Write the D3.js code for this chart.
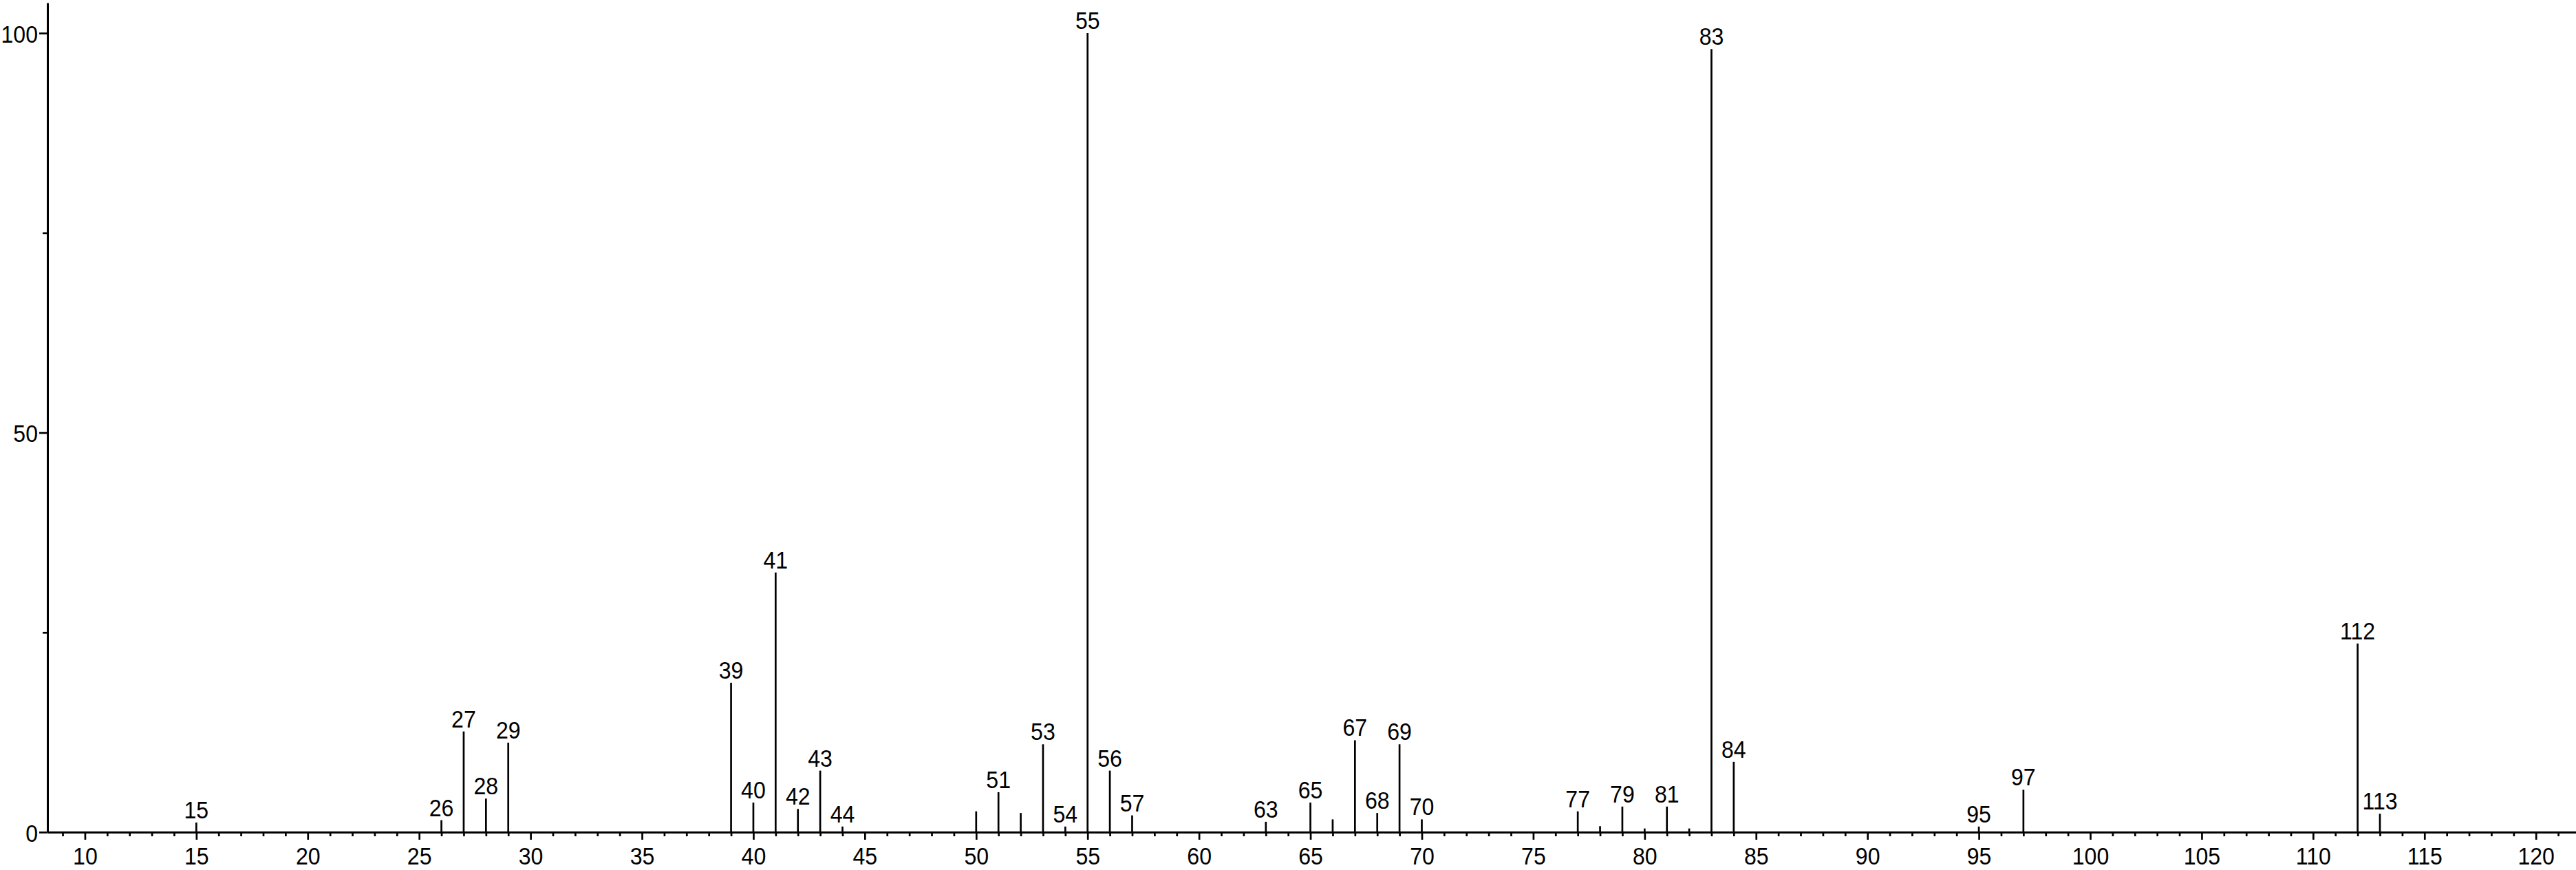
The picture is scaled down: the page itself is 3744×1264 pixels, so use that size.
<!DOCTYPE html>
<html>
<head>
<meta charset="utf-8">
<script src="https://cdn.jsdelivr.net/npm/d3@7"></script>
<style>
  html, body { margin: 0; padding: 0; background: #fff; }
  svg { display: block; }
  text { font-family: "Liberation Sans", Arial, Helvetica, sans-serif; fill: #000; }
</style>
</head>
<body>
<svg id="chart" width="3744" height="1264"></svg>
<script>
// m/z values of the peaks
const mz = [15, 26, 27, 28, 29, 39, 40, 41, 42, 43, 44, 50, 51, 52, 53, 54, 55, 56, 57,
            63, 65, 66, 67, 68, 69, 70, 77, 78, 79, 80, 81, 82, 83, 84, 95, 97, 112, 113];
// relative intensities (%)
const intensity = [1.2, 1.5, 12.6, 4.2, 11.2, 18.7, 3.7, 32.5, 2.9, 7.7, 0.7, 2.6, 5.0, 2.4, 11.0, 0.7, 100, 7.7, 2.1,
                   1.3, 3.7, 1.6, 11.5, 2.4, 11.0, 1.6, 2.6, 0.75, 3.2, 0.46, 3.2, 0.46, 98, 8.8, 0.7, 5.3, 23.6, 2.3];
// peaks that carry a label
const labeledMz = [15, 26, 27, 28, 29, 39, 40, 41, 42, 43, 44, 51, 53, 54, 55, 56, 57,
                   63, 65, 67, 68, 69, 70, 77, 79, 81, 83, 84, 95, 97, 112, 113];
// axis ticks
const xMajorTicks = [10, 15, 20, 25, 30, 35, 40, 45, 50, 55, 60, 65, 70, 75, 80, 85, 90, 95, 100, 105, 110, 115, 120];
const xMinorTicks = d3.range(9, 122);
const yMajorTicks = [0, 50, 100];
const yMinorTicks = [25, 75];

const peaks = mz.map((m, i) => ({ mz: m, value: intensity[i], labeled: labeledMz.includes(m) }));

const svg = d3.select("#chart");
const FONT = 34.5, SX = 0.93;

const x = d3.scaleLinear().domain([8.32, 121.8]).range([69, 3744]);
const y = d3.scaleLinear().domain([0, 103.8]).range([1209, 4]);

// minor x ticks
const gxMinor = svg.append("g").attr("transform", `translate(0,${y(0)})`)
  .call(d3.axisBottom(x).tickValues(xMinorTicks.filter(v => !xMajorTicks.includes(v)))
        .tickSize(6).tickSizeOuter(0).tickFormat(""));
gxMinor.select(".domain").remove();
gxMinor.selectAll(".tick line").attr("stroke", "#000").attr("stroke-width", 2.7);

// major x ticks + labels + domain
const gx = svg.append("g").attr("transform", `translate(0,${y(0)})`)
  .call(d3.axisBottom(x).tickValues(xMajorTicks).tickSize(11).tickSizeOuter(0).tickPadding(12).tickFormat(d3.format("d")));
gx.select(".domain").attr("stroke", "#000").attr("stroke-width", 3);
gx.selectAll(".tick line").attr("stroke", "#000").attr("stroke-width", 2.7);
gx.selectAll(".tick text").attr("font-size", FONT).attr("font-family", null)
  .attr("transform", `scale(${SX},1)`);

// y axis
const gyMinor = svg.append("g").attr("transform", `translate(${x.range()[0]},0)`)
  .call(d3.axisLeft(y).tickValues(yMinorTicks).tickSize(7).tickSizeOuter(0).tickFormat(""));
gyMinor.select(".domain").remove();
gyMinor.selectAll(".tick line").attr("stroke", "#000").attr("stroke-width", 2.7);

const gy = svg.append("g").attr("transform", `translate(${x.range()[0]},0)`)
  .call(d3.axisLeft(y).tickValues(yMajorTicks).tickSize(12).tickSizeOuter(0).tickPadding(3).tickFormat(d3.format("d")));
gy.select(".domain").attr("stroke", "#000").attr("stroke-width", 3);
gy.selectAll(".tick line").attr("stroke", "#000").attr("stroke-width", 2.7);
gy.selectAll(".tick text").attr("font-size", FONT).attr("font-family", null)
  .attr("dy", "0.38em")
  .attr("transform", `scale(${SX},1)`);

// peaks
svg.append("g").selectAll("line").data(peaks).join("line")
  .attr("x1", d => x(d.mz)).attr("x2", d => x(d.mz))
  .attr("y1", y(0)).attr("y2", d => y(d.value))
  .attr("stroke", "#000").attr("stroke-width", 2.7);

// peak labels
svg.append("g").selectAll("g").data(peaks.filter(d => d.labeled)).join("g")
  .attr("transform", d => `translate(${x(d.mz)},${y(d.value) - 6})`)
  .append("text")
  .attr("transform", `scale(${SX},1)`)
  .attr("text-anchor", "middle")
  .attr("font-size", FONT)
  .attr("stroke", "#fff").attr("stroke-width", 5).attr("paint-order", "stroke")
  .text(d => d.mz);
</script>
</body>
</html>
